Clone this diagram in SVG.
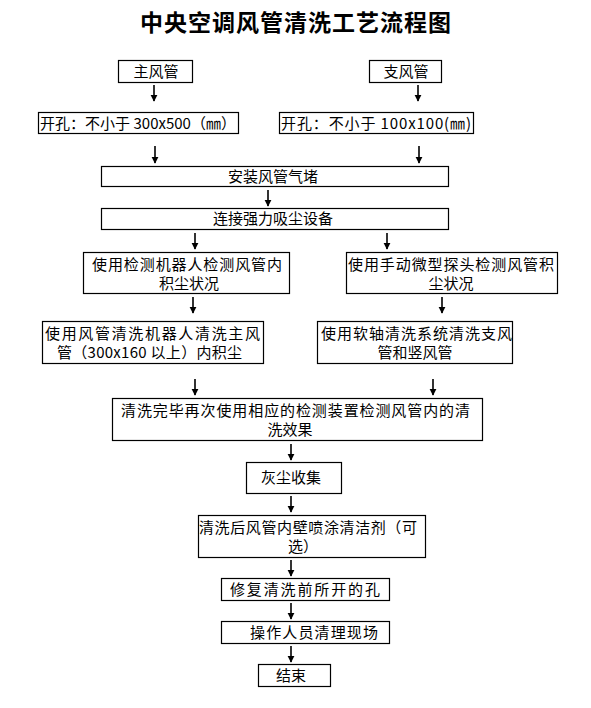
<svg xmlns="http://www.w3.org/2000/svg" width="591" height="708" viewBox="0 0 591 708">
<style>
.box{fill:#fff;stroke:#000;stroke-width:1.2}
.t{font-family:"Noto Sans CJK SC","Liberation Sans",sans-serif;font-size:15px;fill:#000}
.c{text-anchor:middle}
.title{font-family:"Noto Sans CJK SC","Liberation Sans",sans-serif;font-size:23px;font-weight:bold;fill:#000;text-anchor:middle;letter-spacing:1px}
.arr{stroke:#000;stroke-width:1.6;fill:none;marker-end:url(#ah)}
</style>
<defs>
<marker id="ah" viewBox="0 0 10 10" refX="9" refY="5" markerWidth="4.5" markerHeight="4.5" orient="auto" markerUnits="strokeWidth">
<path d="M0,0 L10,5 L0,10 z" fill="#000"/>
</marker>
</defs>
<rect width="591" height="708" fill="#fff"/>
<text class="title" x="296" y="31">中央空调风管清洗工艺流程图</text>

<g id="n1"><rect class="box" x="118.5" y="60.5" width="74" height="22"/><text class="t c" x="156" y="77">主风管</text></g>
<g id="n2"><rect class="box" x="369.5" y="60.5" width="72" height="22"/><text class="t c" x="406" y="77">支风管</text></g>
<g id="n3"><rect class="box" x="38.5" y="112.5" width="200" height="21"/><text class="t" x="40" y="128.5" textLength="196">开孔：不小于 300x500（㎜）</text></g>
<g id="n4"><rect class="box" x="279.5" y="112.5" width="194" height="21"/><text class="t" x="281" y="128.5" textLength="190">开孔：不小于 100x100(㎜)</text></g>
<g id="n5"><rect class="box" x="101.5" y="166.5" width="347" height="20"/><text class="t c" x="273" y="182">安装风管气堵</text></g>
<g id="n6"><rect class="box" x="101.5" y="208.5" width="347" height="21"/><text class="t c" x="273" y="224">连接强力吸尘设备</text></g>
<g id="n7"><rect class="box" x="83.5" y="252.5" width="206" height="41"/><text class="t" x="92" y="270" textLength="190">使用检测机器人检测风管内</text><text class="t c" x="189" y="289">积尘状况</text></g>
<g id="n8"><rect class="box" x="346.5" y="252.5" width="211" height="41"/><text class="t" x="348" y="270" textLength="206">使用手动微型探头检测风管积</text><text class="t c" x="451" y="289">尘状况</text></g>
<g id="n9"><rect class="box" x="42.5" y="321.5" width="221" height="42"/><text class="t" x="45" y="339" textLength="215">使用风管清洗机器人清洗主风</text><text class="t" x="57" y="358" textLength="185">管（300x160 以上）内积尘</text></g>
<g id="n10"><rect class="box" x="317.5" y="321.5" width="195" height="42"/><text class="t" x="321" y="339" textLength="191">使用软轴清洗系统清洗支风</text><text class="t c" x="415" y="358">管和竖风管</text></g>
<g id="n11"><rect class="box" x="112.5" y="398.5" width="370" height="42"/><text class="t" x="121" y="416" textLength="349">清洗完毕再次使用相应的检测装置检测风管内的清</text><text class="t c" x="290" y="435">洗效果</text></g>
<g id="n12"><rect class="box" x="246.5" y="462.5" width="95" height="31"/><text class="t c" x="291" y="483">灰尘收集</text></g>
<g id="n13"><rect class="box" x="198.5" y="515.5" width="227" height="42"/><text class="t" x="199" y="533" textLength="218">清洗后风管内壁喷涂清洁剂（可</text><text class="t" x="288" y="552">选）</text></g>
<g id="n14"><rect class="box" x="221.5" y="578.5" width="168" height="22"/><text class="t" x="230" y="595" textLength="150">修复清洗前所开的孔</text></g>
<g id="n15"><rect class="box" x="221.5" y="621.5" width="168" height="22"/><text class="t" x="250" y="638" textLength="128">操作人员清理现场</text></g>
<g id="n16"><rect class="box" x="258.5" y="664.5" width="72" height="22"/><text class="t c" x="291" y="681">结束</text></g>

<g id="connectors">
<line class="arr" x1="154" y1="85" x2="154" y2="101"/>
<line class="arr" x1="418" y1="85" x2="418" y2="101"/>
<line class="arr" x1="155" y1="146" x2="155" y2="163"/>
<line class="arr" x1="419" y1="146" x2="419" y2="163"/>
<line class="arr" x1="268" y1="190" x2="268" y2="206"/>
<line class="arr" x1="195" y1="233" x2="195" y2="249"/>
<line class="arr" x1="387" y1="233" x2="387" y2="249"/>
<line class="arr" x1="193" y1="297" x2="193" y2="313"/>
<line class="arr" x1="442" y1="297" x2="442" y2="313"/>
<line class="arr" x1="195" y1="379" x2="195" y2="395"/>
<line class="arr" x1="433" y1="379" x2="433" y2="395"/>
<line class="arr" x1="291" y1="444" x2="291" y2="460"/>
<line class="arr" x1="291" y1="496" x2="291" y2="512"/>
<line class="arr" x1="291" y1="560" x2="291" y2="576"/>
<line class="arr" x1="291" y1="603" x2="291" y2="619"/>
<line class="arr" x1="291" y1="646" x2="291" y2="662"/>
</g>
</svg>
